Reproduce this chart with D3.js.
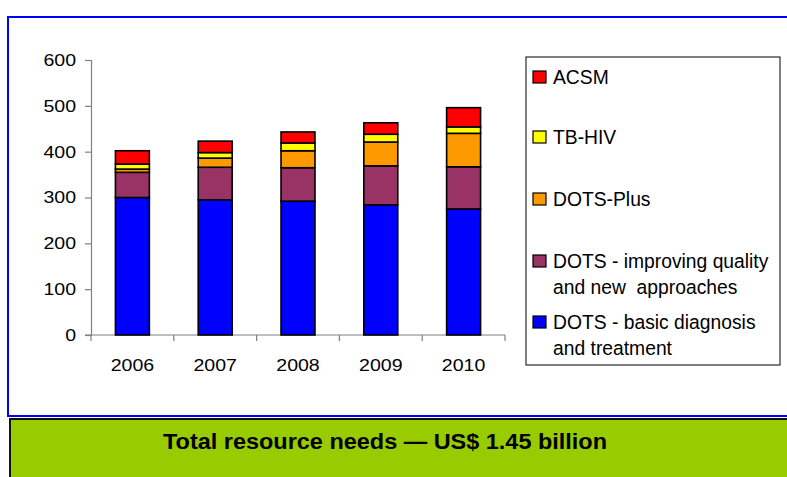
<!DOCTYPE html>
<html>
<head>
<meta charset="utf-8">
<script src="https://cdn.jsdelivr.net/npm/d3@7"></script>
<style>
  html, body { margin: 0; padding: 0; background: #fff; }
  svg { display: block; }
  text { font-family: "Liberation Sans", Arial, sans-serif; }
</style>
</head>
<body>
<svg id="chart" width="787" height="477"></svg>
<script>
// Resource needs by year (US$ millions), stacked from the bottom up
const years = ["2006", "2007", "2008", "2009", "2010"];
const dotsBasic     = [300, 295, 292, 284, 275];
const dotsImproving = [55, 71, 73, 85, 92];
const dotsPlus      = [7, 20, 37, 52, 73];
const tbHiv         = [11, 12, 17, 17, 14];
const acsm          = [29, 25, 24, 25, 42];

const seriesNames = [
  "DOTS - basic diagnosis\nand treatment",
  "DOTS - improving quality\nand new  approaches",
  "DOTS-Plus",
  "TB-HIV",
  "ACSM"
];
const seriesKeys = ["basic", "improving", "plus", "tbhiv", "acsm"];
const seriesValues = [dotsBasic, dotsImproving, dotsPlus, tbHiv, acsm];
const colors = ["#0000FF", "#993366", "#FF9900", "#FFFF00", "#FF0000"];
const yTicks = [0, 100, 200, 300, 400, 500, 600];
const footerText = "Total resource needs \u2014 US$ 1.45 billion";

// Axis labels are drawn slightly wide
const AXIS_FONT = 17, AXIS_STRETCH = 1.15;

const svg = d3.select("#chart");

// Outer blue frame of the chart area
svg.append("rect")
  .attr("x", 8).attr("y", 17)
  .attr("width", 800).attr("height", 399)
  .attr("fill", "#fff")
  .attr("stroke", "#0000FF").attr("stroke-width", 2);

// Green footer band
svg.append("rect")
  .attr("x", 10).attr("y", 419)
  .attr("width", 800).attr("height", 70)
  .attr("fill", "#99CC00")
  .attr("stroke", "#111").attr("stroke-width", 2);
svg.append("text")
  .attr("x", 385).attr("y", 449)
  .attr("text-anchor", "middle")
  .attr("font-family", "'DejaVu Sans', sans-serif")
  .attr("font-weight", "bold")
  .attr("font-size", 22)
  .attr("textLength", 444)
  .attr("lengthAdjust", "spacingAndGlyphs")
  .text(footerText);

// Scales
const x = d3.scaleBand().domain(years).range([91, 505])
  .paddingInner(0.59).paddingOuter(0.295);
const y = d3.scaleLinear().domain([0, 600]).range([335, 60]);

const table = years.map((yr, i) => {
  const row = { year: yr };
  seriesKeys.forEach((k, j) => row[k] = seriesValues[j][i]);
  return row;
});
const stacked = d3.stack().keys(seriesKeys)(table);

// Y axis
const yAxis = svg.append("g")
  .attr("transform", "translate(91,0)")
  .call(d3.axisLeft(y).tickValues(yTicks).tickSize(6).tickPadding(7));
yAxis.select(".domain").attr("stroke", "#808080").attr("stroke-width", 1.2);
yAxis.selectAll(".tick line").attr("stroke", "#808080").attr("stroke-width", 1.2);
yAxis.selectAll(".tick text")
  .attr("x", 0)
  .attr("transform", `translate(-15,0) scale(${AXIS_STRETCH},1)`)
  .attr("font-size", AXIS_FONT).attr("fill", "#000")
  .attr("font-family", "'Liberation Sans', Arial, sans-serif");

// X axis: line plus ticks at category boundaries
const step = x.step();
const x0 = x.range()[0];
svg.append("line")
  .attr("x1", x0 - 6).attr("x2", x.range()[1])
  .attr("y1", y(0)).attr("y2", y(0))
  .attr("stroke", "#808080").attr("stroke-width", 1.2);
svg.selectAll(".xtick").data(d3.range(years.length + 1)).join("line")
  .attr("class", "xtick")
  .attr("x1", i => x0 + i * step).attr("x2", i => x0 + i * step)
  .attr("y1", y(0)).attr("y2", y(0) + 6)
  .attr("stroke", "#808080").attr("stroke-width", 1.2);
svg.selectAll(".xlabel").data(years).join("text")
  .attr("class", "xlabel")
  .attr("transform", d => `translate(${x(d) + x.bandwidth() / 2},371) scale(${AXIS_STRETCH},1)`)
  .attr("text-anchor", "middle")
  .attr("font-size", AXIS_FONT)
  .text(d => d);

// Stacked bars
svg.append("g").selectAll("g").data(stacked).join("g")
  .attr("fill", (d, i) => colors[i])
  .selectAll("rect").data(d => d).join("rect")
  .attr("x", d => x(d.data.year))
  .attr("width", x.bandwidth())
  .attr("y", d => y(d[1]))
  .attr("height", d => y(d[0]) - y(d[1]))
  .attr("stroke", "#000")
  .attr("stroke-width", 1.6);

// Legend (top entry is the top of the stack)
const legend = svg.append("g");
legend.append("rect")
  .attr("x", 526).attr("y", 57)
  .attr("width", 254).attr("height", 308)
  .attr("fill", "#fff")
  .attr("stroke", "#000").attr("stroke-width", 1);
const legendRows = [4, 3, 2, 1, 0];
const legendY = [77, 137, 199, 261, 322];
legendRows.forEach((si, r) => {
  const cy = legendY[r];
  legend.append("rect")
    .attr("x", 533).attr("y", cy - 6)
    .attr("width", 13).attr("height", 12)
    .attr("fill", colors[si])
    .attr("stroke", "#000").attr("stroke-width", 1.2);
  const lines = seriesNames[si].split("\n");
  lines.forEach((ln, li) => {
    legend.append("text")
      .attr("x", 553).attr("y", cy + 6.5 + li * 26)
      .attr("font-size", 19.3)
      .style("white-space", "pre")
      .text(ln);
  });
});
</script>
</body>
</html>
